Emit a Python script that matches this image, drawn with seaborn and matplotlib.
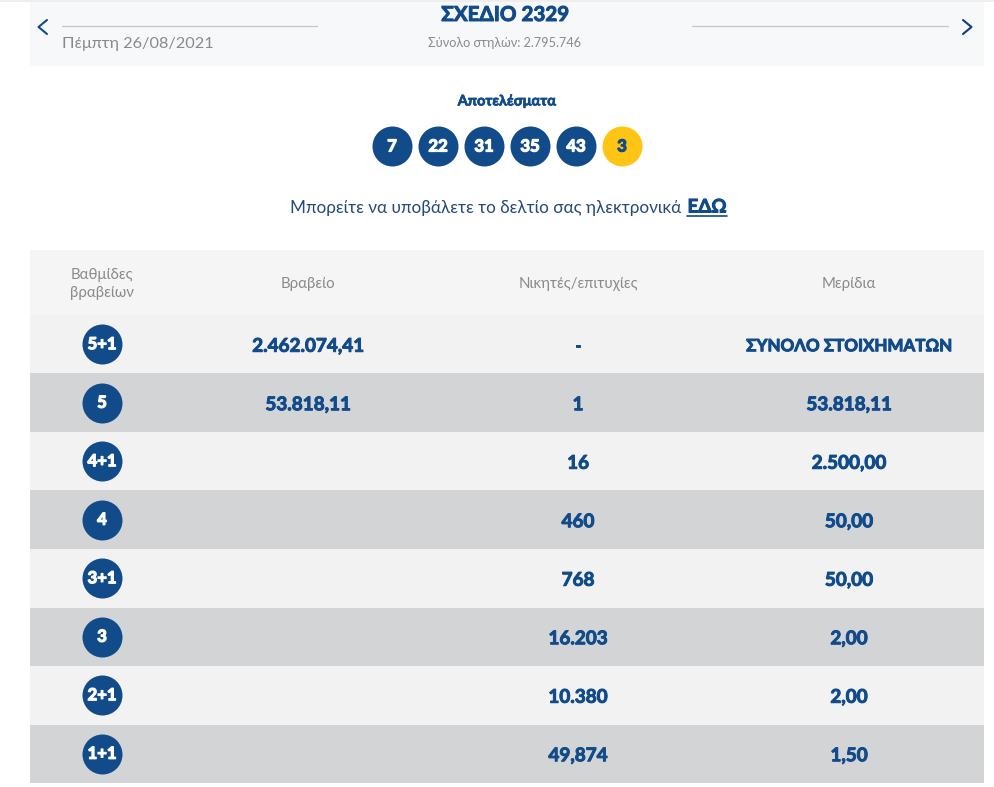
import matplotlib
matplotlib.use("Agg")
import matplotlib.pyplot as plt
import matplotlib.patheffects as pe
from matplotlib.colors import ListedColormap
import numpy as np
import seaborn as sns

# draw results
balls = ["7", "22", "31", "35", "43", "3"]
tiers = ["5+1", "5", "4+1", "4", "3+1", "3", "2+1", "1+1"]
prizes = ["2.462.074,41", "53.818,11", "", "", "", "", "", ""]
winners = ["-", "1", "16", "460", "768", "16.203", "10.380", "49,874"]
shares = ["ΣΥΝΟΛΟ ΣΤΟΙΧΗΜΑΤΩΝ", "53.818,11", "2.500,00", "50,00", "50,00", "2,00", "2,00", "1,50"]
headers = ["Βαθμίδες\nβραβείων", "Βραβείο", "Νικητές/επιτυχίες", "Μερίδια"]

BLUE = "#114b8a"
GREY = "#8a8a8a"
W, H = 994, 787
FONTS = ["Lato", "Noto Sans", "DejaVu Sans"]


def heavy(ax, x, y, s, color=BLUE, size=13.6, stroke=0.7, ha="center"):
    # the original face is a very heavy geometric sans, so thicken bold with a stroke
    ax.text(x, y, s, color=color, fontsize=size, va="center", ha=ha, family=FONTS, fontweight="bold",
            path_effects=[pe.withStroke(linewidth=stroke, foreground=color)])


sns.set_theme(style="white")
plt.rcParams["font.family"] = FONTS

fig = plt.figure(figsize=(W / 100, H / 100), dpi=100, facecolor="white")

# alternating table rows as a one column heatmap
table_ax = fig.add_axes([30 / W, 1 - 783 / H, 954 / W, 468 / H])
stripes = np.array([[i % 2] for i in range(len(tiers))])
sns.heatmap(stripes, ax=table_ax, cmap=ListedColormap(["#f2f2f2", "#d3d4d6"]),
            cbar=False, xticklabels=False, yticklabels=False, linewidths=0)

# everything else goes on a pixel sized overlay
ax = fig.add_axes([0, 0, 1, 1])
ax.set_xlim(0, W)
ax.set_ylim(H, 0)
ax.axis("off")
ax.patch.set_alpha(0)

# top strip
ax.fill_between([30, 984], 0, 66, color="#f7f8fa", lw=0)
ax.fill_between([0, W], 0, 1.5, color="#eeeeee", lw=0)
ax.plot([62, 317], [26, 26], color="#c3c6cf", lw=0.9)
ax.plot([692, 948], [26, 26], color="#c3c6cf", lw=0.9)
ax.plot([47, 38.5, 47], [20, 27, 34], color=BLUE, lw=1.5)
ax.plot([963, 971.5, 963], [20, 27, 34], color="#123a80", lw=1.5)
ax.text(62, 44, "Πέμπτη 26/08/2021", color=GREY, fontsize=11.7, va="center", ha="left")
heavy(ax, 505, 15, "ΣΧΕΔΙΟ 2329", size=14.8)
ax.text(505, 43, "Σύνολο στηλών: 2.795.746", color=GREY, fontsize=9.1, va="center", ha="center")

# results
heavy(ax, 507, 101, "Αποτελέσματα", size=10.5, stroke=0.5)
ball_x = 392 + 46 * np.arange(len(balls))
for i, (x, b) in enumerate(zip(ball_x, balls)):
    bonus = i == len(balls) - 1
    ax.scatter(x, 146, s=829, color="#ffc414" if bonus else BLUE, linewidths=0)
    heavy(ax, x, 146.5, b, color=BLUE if bonus else "white", size=12, stroke=0.9)

ax.text(681, 208, "Μπορείτε να υποβάλετε το δελτίο σας ηλεκτρονικά", color="#24497c", fontsize=12.37,
        va="center", ha="right")
heavy(ax, 707, 207, "ΕΔΩ", size=13.5)
ax.plot([687, 727], [216, 216], color=BLUE, lw=1.2)

# table header
ax.fill_between([30, 984], 250, 315, color="#f5f5f5", lw=0)
col_x = [102, 308, 578, 849]
for x, h in zip(col_x, headers):
    ax.text(x, 284, h, color=GREY, fontsize=10.8, va="center", ha="center", linespacing=1.35)

# table rows
row_y = 315 + 58.5 * (np.arange(len(tiers)) + 0.5)
for y, t, p, n, s in zip(row_y, tiers, prizes, winners, shares):
    ax.scatter(col_x[0], y, s=829, color=BLUE, linewidths=0)
    heavy(ax, col_x[0], y, t, color="white", size=12, stroke=0.9)
    heavy(ax, col_x[1], y + 2, p)
    heavy(ax, col_x[2], y + 2, n)
    heavy(ax, col_x[3], y + 2, s, size=12.2 if s.startswith("Σ") else 13.6)

fig.savefig("out.png", dpi=100)
